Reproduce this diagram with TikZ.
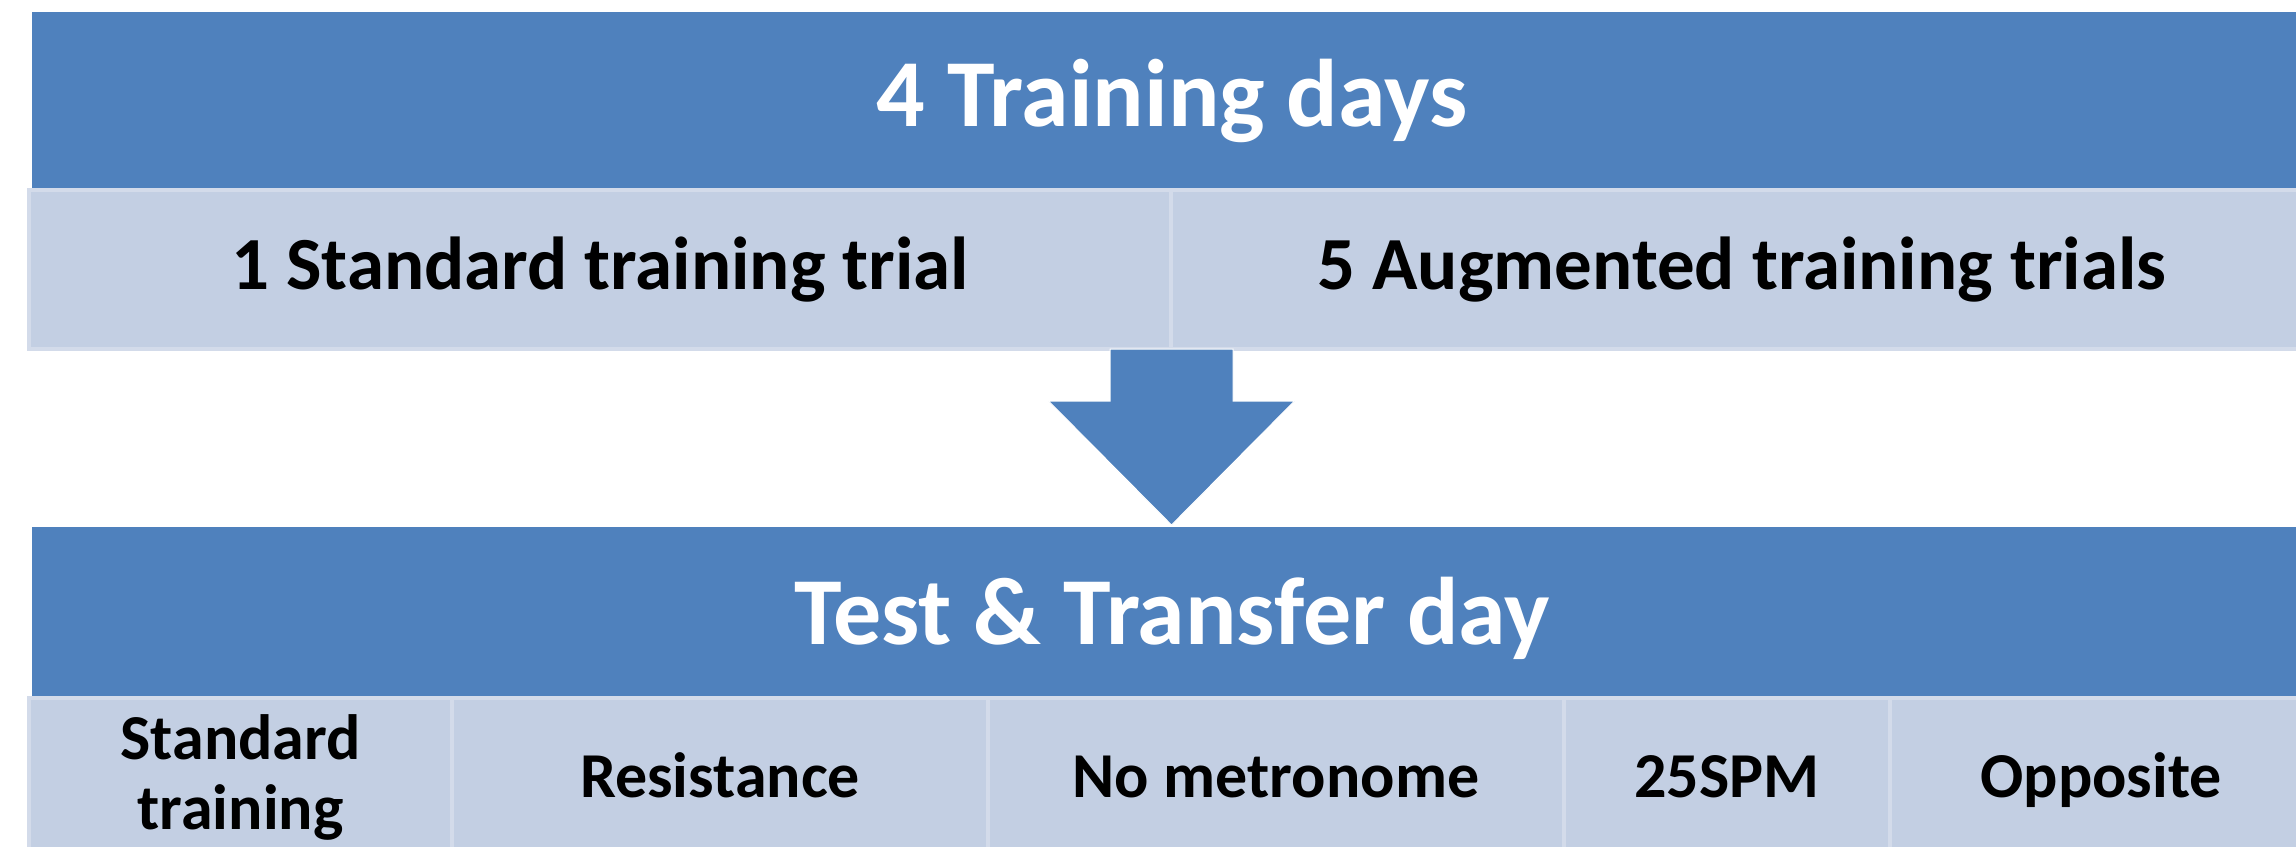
\documentclass[tikz,border=0pt]{standalone}
\usepackage{fontspec}
\setmainfont{Carlito}
\usetikzlibrary{calc}
\definecolor{bandblue}{HTML}{4F81BD}
\definecolor{cellfill}{HTML}{C3CFE3}
\definecolor{cellrim}{HTML}{D3DBEA}
\tikzset{
  band/.style={fill=bandblue, draw=none, inner sep=0pt, outer sep=0pt, text=white,
    font=\fontsize{96}{100}\selectfont\bfseries},
  cell/.style={fill=cellfill, draw=cellrim, line width=4pt, inner sep=0pt, outer sep=0pt,
    align=center, text=black},
  bigcell/.style={cell, font=\fontsize{75}{80}\selectfont\bfseries},
  smallcell/.style={cell, font=\fontsize{64}{70}\selectfont\bfseries},
  oneline/.style={text height=41pt, text depth=0pt},
  blockarrow/.style={fill=bandblue, draw=white, line width=1pt}
}
\begin{document}
\begin{tikzpicture}[x=1pt, y=-1pt]
\useasboundingbox (0,0) rectangle (2296,846);
\clip (0,0) rectangle (2296,846);
\fill[white] (0,0) rectangle (2296,846);

% training phase
\node[band, minimum width=2280pt, minimum height=178pt] (train) at (1172,101) {4 Training days};
\node[bigcell, minimum width=1142pt, minimum height=159pt] (std) at (600,269.5) {1 Standard training trial};
\node[bigcell, minimum width=1142pt, minimum height=159pt] (aug) at (1742,269.5) {5 Augmented training trials};

% test phase
\node[band, minimum width=2280pt, minimum height=171pt, text height=63pt, text depth=0pt] (test) at (1172,612.5) {Test \& Transfer day};
\node[smallcell, minimum width=423pt, minimum height=158pt] (c1) at (240.5,777) {Standard\\training};
\node[smallcell, oneline, minimum width=536pt, minimum height=158pt] (c2) at (720,777) {Resistance};
\node[smallcell, oneline, minimum width=576pt, minimum height=158pt] (c3) at (1276,777) {No metronome};
\node[smallcell, oneline, minimum width=326pt, minimum height=158pt] (c4) at (1727,777) {25SPM};
\node[smallcell, oneline, minimum width=422pt, minimum height=158pt] (c5) at (2101,777) {Opposite};

% block arrow from the training row down to the test banner
\coordinate (atop) at (1171.5,349);
\coordinate (atip) at (1171.5,525);
\draw[blockarrow] ($(atop)+(-61.5,0)$) -- ($(atop)+(61.5,0)$) -- ++(0,52)
  -- ($(atop)+(123,52)$) -- (atip) -- ($(atop)+(-123,52)$) -- ($(atop)+(-61.5,52)$) -- cycle;
\end{tikzpicture}
\end{document}
